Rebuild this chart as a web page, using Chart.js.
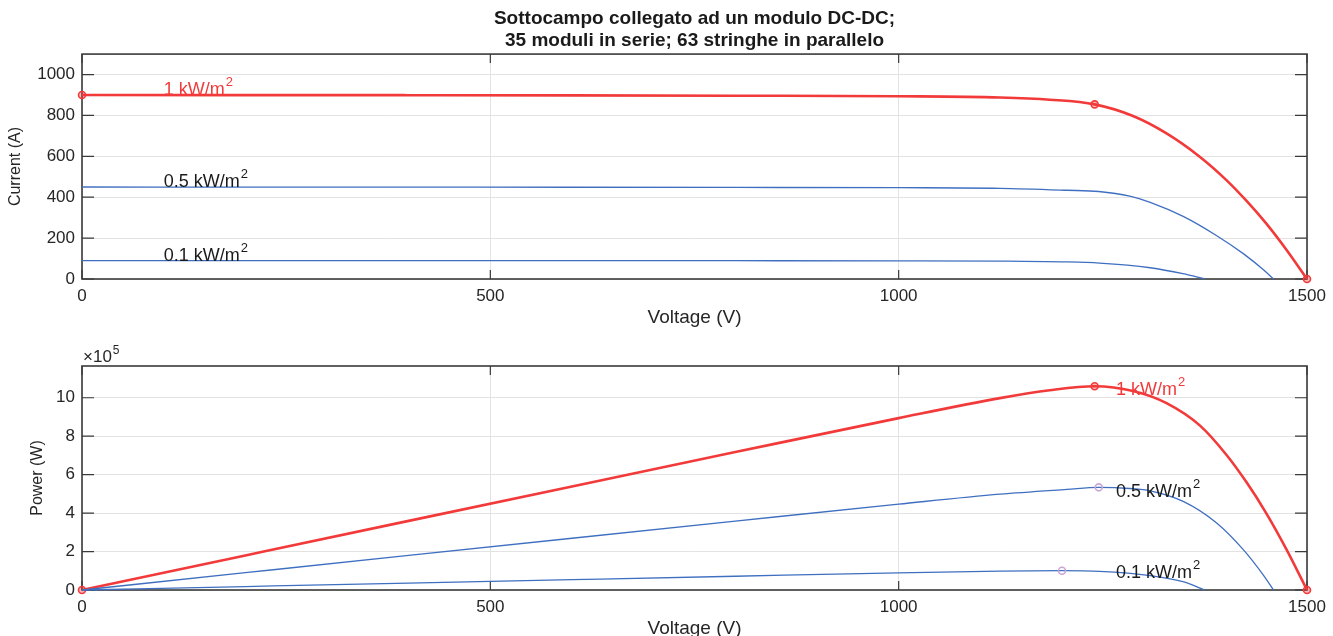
<!DOCTYPE html>
<html lang="it">
<head>
<meta charset="UTF-8">
<title>Sottocampo collegato ad un modulo DC-DC</title>
<script src="https://cdn.jsdelivr.net/npm/chart.js"></script>
<style>
  html, body { margin: 0; padding: 0; background: #fff; overflow: hidden; }
  #top { position: absolute; left: 0; top: 0; width: 1333px; height: 335px; }
  #bottom { position: absolute; left: 0; top: 335px; width: 1333px; height: 310px; }
</style>
</head>
<body>
<div id="top"><canvas id="ivChart"></canvas></div>
<div id="bottom"><canvas id="pvChart"></canvas></div>
<script>
// values (V, A, W)
const voltage1 = [0, 200, 400, 600, 800, 1000, 1124, 1185, 1240, 1287, 1328, 1369, 1401, 1426, 1450, 1475, 1500];
const current1 = [900, 899.5, 899, 898, 896.5, 894, 888, 877, 854, 797, 712, 597, 485, 382, 272, 142, 0];
const power1 = [0, 179900, 359600, 538800, 717200, 894000, 998000, 1039000, 1060000, 1035000, 972000, 855000, 705000, 560000, 400000, 210000, 0];

const voltage05 = [0, 200, 400, 600, 800, 1000, 1124, 1206, 1245, 1283, 1308, 1349, 1389, 1422, 1447, 1459];
const current05 = [450, 449.6, 449.2, 448.6, 447.8, 446.5, 443.5, 434, 428, 405, 375, 305, 213, 124, 44, 0];
const power05 = [0, 89900, 179700, 269200, 358200, 446500, 498500, 523400, 534000, 528000, 516000, 460000, 350000, 210000, 75000, 0];

const voltage01 = [0, 200, 400, 600, 800, 1000, 1124, 1200, 1246, 1308, 1348, 1375];
const current01 = [90, 89.9, 89.8, 89.6, 89.4, 89, 87.5, 84, 78, 55, 26, 0];
const power01 = [0, 17980, 35920, 53760, 71520, 89000, 98000, 100500, 97000, 75000, 43000, 0];

const seriesNames = ['1 kW/m', '0.5 kW/m', '0.1 kW/m'];
const voltageTicks = [0, 500, 1000, 1500];
const currentTicks = [0, 200, 400, 600, 800, 1000];
const powerTicks = [0, 200000, 400000, 600000, 800000, 1000000];

const RED = '#f23a3a';
const BLUE = '#3f6fc0';
const FONT = '"Liberation Sans", Arial, Helvetica, sans-serif';

function pts(xs, ys) {
    return xs.map((x, i) => ({ x: x, y: ys[i] }));
}

function radiusAt(marks, r) {
    return ctx => marks.includes(ctx.dataIndex) ? r : 0;
}

function lineSet(label, xs, ys, color, width, marks, markColor, markFill) {
    return {
        label: label,
        data: pts(xs, ys),
        borderColor: color,
        borderWidth: width,
        backgroundColor: markFill || 'rgba(0,0,0,0)',
        pointBackgroundColor: markFill || 'rgba(0,0,0,0)',
        pointBorderColor: markColor || color,
        pointBorderWidth: 1.6,
        pointRadius: radiusAt(marks, 3.5),
        pointHoverRadius: 0,
        cubicInterpolationMode: 'monotone',
        clip: false
    };
}

// MATLAB style box, inward ticks and curve labels
const matlabBox = {
    id: 'matlabBox',
    beforeDatasetsDraw(chart) {
        const { ctx, chartArea: a, scales } = chart;
        ctx.save();
        ctx.strokeStyle = '#3a3a3a';
        ctx.lineWidth = 1.2;
        ctx.beginPath();
        scales.x.ticks.forEach(t => {
            const px = scales.x.getPixelForValue(t.value);
            ctx.moveTo(px, a.bottom); ctx.lineTo(px, a.bottom - 9);
            ctx.moveTo(px, a.top); ctx.lineTo(px, a.top + 9);
        });
        scales.y.ticks.forEach(t => {
            const py = scales.y.getPixelForValue(t.value);
            ctx.moveTo(a.left, py); ctx.lineTo(a.left + 12, py);
            ctx.moveTo(a.right, py); ctx.lineTo(a.right - 12, py);
        });
        ctx.stroke();
        ctx.lineWidth = 1.6;
        ctx.strokeRect(a.left, a.top, a.right - a.left, a.bottom - a.top);
        ctx.restore();
    },
    afterDatasetsDraw(chart, args, opts) {
        const { ctx, scales } = chart;
        ctx.save();
        ctx.textAlign = 'left';
        ctx.textBaseline = 'alphabetic';
        (opts.labels || []).forEach(l => {
            const x = scales.x.getPixelForValue(l.x);
            const y = scales.y.getPixelForValue(l.y);
            ctx.fillStyle = l.color;
            ctx.font = '18px ' + FONT;
            ctx.fillText(l.text, x, y);
            const w = ctx.measureText(l.text).width;
            ctx.font = '13px ' + FONT;
            ctx.fillText('2', x + w + 1, y - 9);
        });
        if (opts.exponent) {
            const a = chart.chartArea;
            ctx.fillStyle = '#262626';
            ctx.font = '17px ' + FONT;
            ctx.fillText('\u00d710', a.left + 1, a.top - 4);
            const w = ctx.measureText('\u00d710').width;
            ctx.font = '12px ' + FONT;
            ctx.fillText(opts.exponent, a.left + 2 + w, a.top - 12);
        }
        ctx.restore();
    }
};

function xAxis(bottomHeight, titlePad) {
    return {
        type: 'linear',
        min: 0,
        max: 1500,
        afterBuildTicks: s => { s.ticks = voltageTicks.map(v => ({ value: v })); },
        grid: { color: '#e3e3e3', lineWidth: 1, drawTicks: false },
        border: { display: false },
        ticks: { padding: 7, color: '#262626', font: { family: FONT, size: 17 }, callback: v => String(v) },
        title: {
            display: true, text: 'Voltage (V)', color: '#262626',
            font: { family: FONT, size: 19 }, padding: { top: 0, bottom: titlePad }
        },
        afterFit: s => { s.height = bottomHeight; }
    };
}

function yAxis(max, tickValues, title, titlePad, fmt) {
    return {
        type: 'linear',
        min: 0,
        max: max,
        afterBuildTicks: s => { s.ticks = tickValues.map(v => ({ value: v })); },
        grid: { color: '#e3e3e3', lineWidth: 1, drawTicks: false },
        border: { display: false },
        ticks: { padding: 7, color: '#262626', font: { family: FONT, size: 17 }, callback: fmt },
        title: {
            display: true, text: title, color: '#262626',
            font: { family: FONT, size: 16 }, padding: { top: titlePad, bottom: 0 }
        },
        afterFit: s => { s.width = 82; }
    };
}

Chart.defaults.animation = false;

new Chart(document.getElementById('ivChart'), {
    type: 'line',
    data: {
        datasets: [
            lineSet('0.1', voltage01, current01, BLUE, 1.3, []),
            lineSet('0.5', voltage05, current05, BLUE, 1.3, []),
            lineSet('1', voltage1, current1, RED, 2.6, [0, 8, 16], RED, 'rgba(242,58,58,0.35)')
        ]
    },
    options: {
        responsive: true,
        maintainAspectRatio: false,
        layout: { padding: { left: 0, right: 26, top: 0, bottom: 0 } },
        scales: {
            x: xAxis(56, 6),
            y: yAxis(1100, currentTicks, 'Current (A)', 6, v => String(v))
        },
        plugins: {
            legend: { display: false },
            tooltip: { enabled: false },
            title: {
                display: true,
                fullSize: false,
                text: ['Sottocampo collegato ad un modulo DC-DC;', '35 moduli in serie; 63 stringhe in parallelo'],
                color: '#1a1a1a',
                font: { family: FONT, size: 19, weight: 'bold', lineHeight: 1.16 },
                padding: { top: 8, bottom: 2 }
            },
            matlabBox: {
                labels: [
                    { text: seriesNames[0], x: 100, y: 900, color: RED },
                    { text: seriesNames[1], x: 100, y: 450, color: '#1a1a1a' },
                    { text: seriesNames[2], x: 100, y: 90, color: '#1a1a1a' }
                ]
            }
        }
    },
    plugins: [matlabBox]
});

new Chart(document.getElementById('pvChart'), {
    type: 'line',
    data: {
        datasets: [
            lineSet('0.1', voltage01, power01, BLUE, 1.3, [7], '#c9a6d6'),
            lineSet('0.5', voltage05, power05, BLUE, 1.3, [8], '#c9a6d6'),
            lineSet('1', voltage1, power1, RED, 2.6, [0, 8, 16], RED, 'rgba(242,58,58,0.35)')
        ]
    },
    options: {
        responsive: true,
        maintainAspectRatio: false,
        layout: { padding: { left: 0, right: 26, top: 31, bottom: 0 } },
        scales: {
            x: xAxis(55, 5),
            y: yAxis(1165000, powerTicks, 'Power (W)', 28, v => String(v / 100000))
        },
        plugins: {
            legend: { display: false },
            tooltip: { enabled: false },
            matlabBox: {
                exponent: '5',
                labels: [
                    { text: seriesNames[0], x: 1266, y: 1015000, color: RED },
                    { text: seriesNames[1], x: 1266, y: 485000, color: '#1a1a1a' },
                    { text: seriesNames[2], x: 1266, y: 62000, color: '#1a1a1a' }
                ]
            }
        }
    },
    plugins: [matlabBox]
});
</script>
</body>
</html>
